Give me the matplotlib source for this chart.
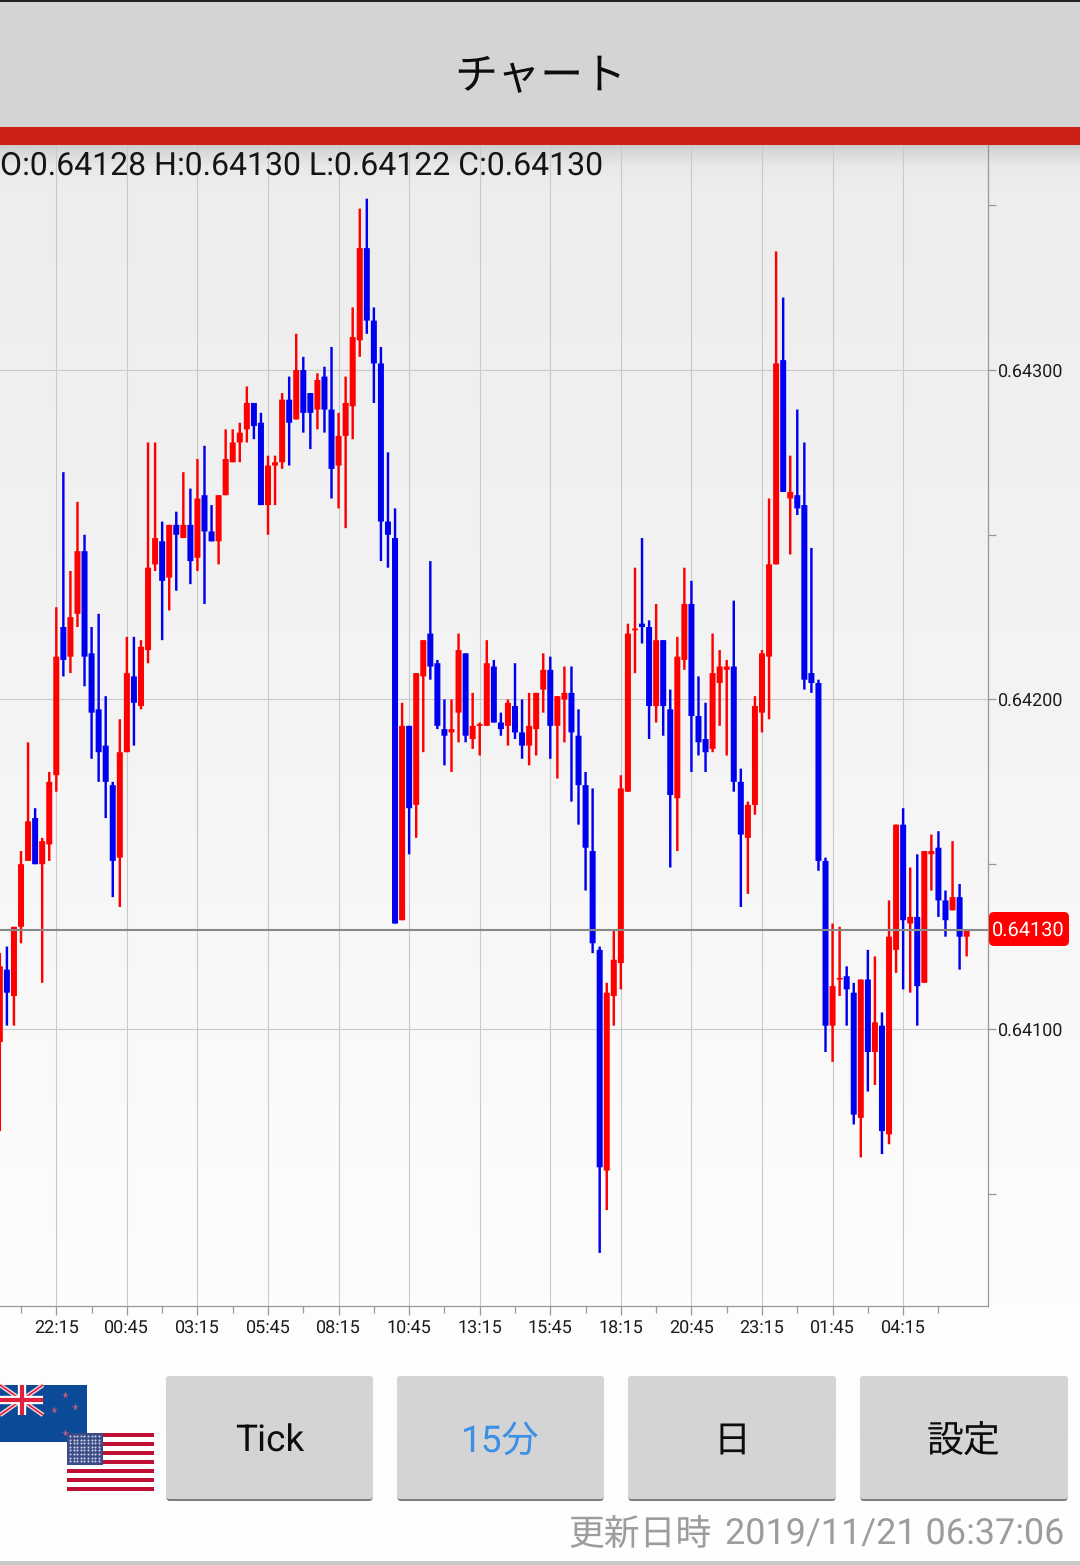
import numpy as np
import matplotlib
matplotlib.use("Agg")
import matplotlib.pyplot as plt
from matplotlib.patches import Rectangle, FancyBboxPatch
from matplotlib.ticker import FixedLocator, FixedFormatter
from matplotlib.transforms import ScaledTranslation

# Prices as points above 0.64000 (1 point = 0.00001)
opens = [96,118,110,131,151,164,150,156,177,222,213,226,245,214,197,186,174,152,184,207,
         198,215,241,248,237,253,249,253,243,262,251,248,262,272,278,282,290,284,259,271,
         272,291,285,300,293,288,298,288,271,280,289,309,337,315,302,254,249,133,192,168,
         207,220,211,191,190,196,214,188,192,192,210,193,192,198,190,186,191,203,209,192,
         200,202,189,174,154,124,57,110,120,172,221,223,222,198,218,197,170,212,229,195,
         188,185,205,209,210,175,158,168,196,213,241,303,261,262,259,208,205,151,101,115,
         116,111,73,115,93,101,68,124,162,132,134,114,153,155,139,136,140,128]
highs = [123,125,131,154,187,167,158,178,228,269,239,260,250,222,226,201,175,194,219,219,
         218,278,278,254,253,257,269,264,273,277,259,262,282,282,284,295,290,287,274,274,
         293,298,311,304,293,299,301,307,287,298,319,349,352,319,307,275,258,199,192,208,
         218,242,212,200,200,220,214,202,193,218,212,196,200,211,200,202,202,214,213,201,
         210,210,197,178,173,125,114,130,177,223,240,249,224,229,218,203,219,240,236,207,
         199,220,215,212,230,179,169,201,215,261,336,322,274,288,278,246,206,152,132,131,
         119,114,115,124,122,105,139,162,167,149,153,154,159,160,142,157,144,130]
lows = [69,101,101,126,151,150,114,151,172,207,208,222,204,182,175,164,140,137,184,186,
        197,211,239,218,227,233,249,235,239,229,248,241,262,272,272,278,279,259,250,259,
        270,271,285,281,276,282,281,261,258,252,279,304,311,290,242,240,132,133,153,158,
        184,206,191,180,178,187,187,185,183,192,193,189,186,188,182,180,183,196,182,176,
        187,169,162,142,123,32,45,101,112,172,208,217,188,193,189,149,154,209,178,183,
        178,184,192,183,172,137,141,165,190,194,241,263,244,256,203,202,148,93,90,110,
        101,71,61,81,83,62,65,117,112,111,101,114,142,134,128,136,118,122]
closes = [119,111,131,150,163,150,157,175,213,212,225,245,213,196,184,175,151,184,208,199,
          216,240,249,236,253,250,253,242,261,251,248,262,273,278,281,290,283,259,271,272,
          291,284,300,287,287,297,288,270,280,290,310,337,315,302,254,250,132,192,167,208,
          218,210,192,189,191,215,189,192,192,211,193,191,199,190,186,192,202,209,192,201,
          202,190,174,155,126,58,111,121,173,220,221,222,198,218,198,171,213,229,195,187,
          184,208,210,210,175,159,168,198,214,241,302,263,263,258,206,205,151,101,113,115,
          112,74,115,93,102,69,128,162,133,134,113,154,154,139,133,140,128,130]

PRICE_BASE = 0.64
POINT = 0.00001
time_labels = ["22:15","00:45","03:15","05:45","08:15","10:45","13:15",
               "15:45","18:15","20:45","23:15","01:45","04:15"]
price_majors = [0.64100, 0.64200, 0.64300]
price_minors = [0.64050, 0.64150, 0.64250, 0.64350]
last_price = 0.64130
ohlc_text = "O:0.64128 H:0.64130 L:0.64122 C:0.64130"
buttons = ["Tick", "15分", "日", "設定"]
title = "チャート"
updated_label = "更新日時"
updated_time = "2019/11/21 06:37:06"

W, H = 1080, 1565
FONTS = ['Roboto', 'Noto Sans CJK JP', 'DejaVu Sans']
plt.rcParams['font.family'] = FONTS
plt.rcParams['text.hinting'] = 'no_hinting'
plt.rcParams['text.hinting_factor'] = 1
fig = plt.figure(figsize=(W/100, H/100), dpi=100, facecolor='white')

# full-figure pixel layer
bg = fig.add_axes([0, 0, 1, 1], zorder=0)
bg.set_xlim(0, W); bg.set_ylim(H, 0); bg.axis('off')
ys = np.arange(H)
shade = np.interp(ys, [0, 145, 150, 166, 185, 700, 1300, 1565],
                  [235, 205, 214, 232, 236, 243, 252, 254])
bg.imshow(shade[:, None], cmap='gray', vmin=0, vmax=255, extent=[0, W, H, 0], aspect='auto', zorder=0)
bg.set_xlim(0, W); bg.set_ylim(H, 0)

bg.add_patch(Rectangle((0, 0), W, 127, fc='#d4d4d4', ec='none', zorder=1))
bg.add_patch(Rectangle((0, 0), W, 1.5, fc='#222222', ec='none', zorder=2))
bg.add_patch(Rectangle((0, 127), W, 18, fc='#cf2015', ec='none', zorder=2))
bg.text(540, 77, title, ha='center', va='center', fontsize=31, color='#0d0d0d',
        family='Noto Sans CJK JP', zorder=3)

# chart axes
L, R, T, B = 0, 988, 145, 1306
ax = fig.add_axes([L/W, 1-B/H, (R-L)/W, (B-T)/H], zorder=1)
ax.patch.set_alpha(0)
x = np.arange(len(opens))
px_per_candle = 7.057
ax.set_xlim(8-56.3/px_per_candle, 8+(R-56.3)/px_per_candle)
ax.set_ylim(PRICE_BASE+15.9*POINT, PRICE_BASE+368.3*POINT)

o = PRICE_BASE+np.array(opens)*POINT
h = PRICE_BASE+np.array(highs)*POINT
l = PRICE_BASE+np.array(lows)*POINT
c = PRICE_BASE+np.array(closes)*POINT
up = c >= o
colors = np.where(up, '#ff0000', '#0000f0')
wicks = ax.vlines(x, l, h, colors=colors, linewidth=1.75, zorder=3)
wicks.set_snap(False)
body_low = np.minimum(o, c)
body_h = np.maximum(np.abs(c-o), 0.5*POINT)
bars = ax.bar(x, body_h, bottom=body_low, width=6.0/px_per_candle, color=colors, linewidth=0, zorder=4)
for b in bars:
    b.set_snap(False)

major_x = list(range(8, 8+10*len(time_labels), 10))
minor_x = [m-5 for m in major_x] + [major_x[-1]+5]
ax.xaxis.set_major_locator(FixedLocator(major_x))
ax.xaxis.set_major_formatter(FixedFormatter(time_labels))
ax.xaxis.set_minor_locator(FixedLocator(minor_x))
ax.yaxis.tick_right()
ax.yaxis.set_major_locator(FixedLocator(price_majors))
ax.yaxis.set_major_formatter(FixedFormatter([f"{p:.5f}" for p in price_majors]))
ax.yaxis.set_minor_locator(FixedLocator(price_minors))
ax.grid(True, which='major', color='#c9c9c9', linewidth=0.8, zorder=1)
ax.set_axisbelow(True)
ax.tick_params(axis='x', which='major', length=6.5, width=0.9, color='#999999', labelsize=13.2,
               labelcolor='#1c1c1c', pad=3.9)
ax.tick_params(axis='x', which='minor', length=5, width=0.9, color='#999999')
ax.tick_params(axis='y', which='major', length=5.8, width=0.9, color='#999999', labelsize=12.8,
               labelcolor='#1c1c1c', pad=1.6)
ax.tick_params(axis='y', which='minor', length=5.8, width=0.9, color='#999999')
for s in ['top', 'left']:
    ax.spines[s].set_visible(False)
for s in ['right', 'bottom']:
    ax.spines[s].set_color('#999999'); ax.spines[s].set_linewidth(0.9)
ax.axhline(last_price, color='#888888', linewidth=1.5, zorder=5)
for lbl in ax.get_yticklabels():
    lbl.set_transform(lbl.get_transform() + ScaledTranslation(0, -1/100, fig.dpi_scale_trans))

# overlays in pixel coordinates
top = fig.add_axes([0, 0, 1, 1], zorder=2)
top.set_xlim(0, W); top.set_ylim(H, 0); top.axis('off'); top.patch.set_alpha(0)
top.text(0.5, 166, ohlc_text, ha='left', va='center', fontsize=23, color='#141414')
top.add_patch(FancyBboxPatch((992, 915), 74, 28, boxstyle='round,pad=3,rounding_size=5',
                             fc='#ff0000', ec='none'))
top.text(1028.5, 930.5, f"{last_price:.5f}", ha='center', va='center', fontsize=14.2, color='white')

# flags
top.add_patch(Rectangle((0, 1385), 87, 57, fc='#0a4a96', ec='none', zorder=2))
for xs, ys_ in [((0, 43), (1385, 1415)), ((0, 43), (1415, 1385))]:
    top.plot(xs, ys_, color='#f4d8dc', lw=3.2, solid_capstyle='butt', zorder=3)
    top.plot(xs, ys_, color='#e0203c', lw=1.2, solid_capstyle='butt', zorder=4)
top.plot([21.7, 21.7], [1385, 1415], color='white', lw=6, solid_capstyle='butt', zorder=5)
top.plot([0, 43], [1400, 1400], color='white', lw=6, solid_capstyle='butt', zorder=5)
top.plot([21.7, 21.7], [1385, 1415], color='#e0203c', lw=3, solid_capstyle='butt', zorder=6)
top.plot([0, 43], [1400, 1400], color='#e0203c', lw=3, solid_capstyle='butt', zorder=6)
top.plot([65, 75, 54, 65], [1395, 1407, 1410, 1433], ls='none', marker='*', ms=5.5,
         mfc='#c8607a', mec='none', zorder=3)
top.add_patch(Rectangle((67, 1433), 87, 58, fc='white', ec='none', zorder=7))
sh = 58/13
for k in range(0, 13, 2):
    top.add_patch(Rectangle((67, 1433+k*sh), 87, sh, fc='#bf0f34', ec='none', zorder=8))
top.add_patch(Rectangle((67, 1433), 36, 31.5, fc='#3c4a86', ec='none', zorder=9))
gx, gy = np.meshgrid(np.arange(70, 102, 3.6), np.arange(1436, 1464, 3.6))
top.plot(gx.ravel(), gy.ravel(), ls='none', marker='o', ms=1.5, mfc='#c8d0e6', mec='none', zorder=10)

# buttons
btn_x = [(166, 373), (397, 604), (628, 836), (860, 1068)]
btn_col = ['#0d0d0d', '#3a8fe6', '#0d0d0d', '#0d0d0d']
for (x0, x1), lab, col in zip(btn_x, buttons, btn_col):
    top.add_patch(FancyBboxPatch((x0+0.5, 1378), x1-x0-1, 123, boxstyle='round,pad=0,rounding_size=3',
                                 fc='#7f7f7f', ec='none'))
    top.add_patch(FancyBboxPatch((x0, 1376), x1-x0, 123, boxstyle='round,pad=0,rounding_size=3',
                                 fc='#d4d4d4', ec='none'))
    top.text((x0+x1)/2, 1442, lab, ha='center', va='center', fontsize=26.6, color=col)

top.text(1064.5, 1535, updated_time, ha='right', va='center', fontsize=25.6, color='#9c9c9c')
top.text(712, 1535, updated_label, ha='right', va='center', fontsize=25.8, color='#9c9c9c')
top.add_patch(Rectangle((0, 1561), W, 4, fc='#c8c8c8', ec='none'))

fig.savefig('out.png', dpi=100, facecolor='white')
